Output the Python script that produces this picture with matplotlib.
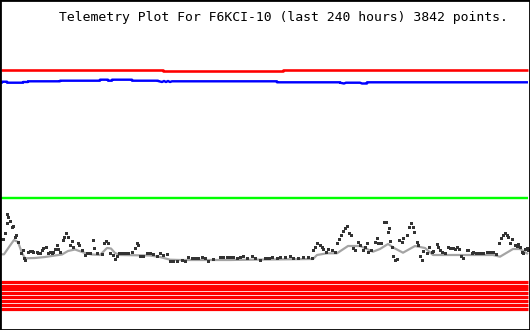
import matplotlib
matplotlib.use("Agg")
import matplotlib.pyplot as plt
import numpy as np

# ---- data (x: plot column 0..530, y: screen level, larger = lower) ----
title = "Telemetry Plot For F6KCI-10 (last 240 hours) 3842 points."

red_x = [1, 163, 163, 283, 283, 285, 285, 528]
red_y = [70, 70, 71, 71, 70, 70, 70, 70]

blue_x = [1, 2, 2, 7, 7, 23, 23, 28, 28, 60, 60, 100, 100, 108, 108, 112, 112, 132,
          132, 158, 158, 162, 164, 166, 168, 170, 172, 177, 177, 277, 277, 340, 340,
          344, 346, 360, 362, 367, 367, 528]
blue_y = [82.7, 82.7, 81.7, 81.7, 82.7, 82.7, 82, 82, 81.3, 81.3, 80.7, 80.7, 79.7, 79.7,
          80.7, 80.7, 79.7, 79.7, 80.7, 80.7, 81, 82, 81, 82, 81, 82, 81.3, 81.3, 81.3,
          81.3, 82.3, 82.3, 82.7, 83.5, 82.7, 82.7, 83.5, 83.5, 82.3, 82.3]

green_x = [1, 528]
green_y = [198, 198]

avg_x = [1, 4, 9, 14, 18, 22, 25, 35, 45, 55, 62, 68, 75, 85, 92, 100, 103, 107, 111,
         115, 120, 150, 160, 170, 180, 230, 250, 270, 313, 317, 327, 337, 348, 360,
         373, 380, 388, 395, 403, 415, 425, 433, 493, 500, 513, 520, 528]
avg_y = [254.3, 254.3, 247, 240, 242, 253, 258.3, 258, 257, 255.5, 254.5, 251, 249.5,
         253, 254.5, 255, 252, 248, 248.5, 253, 255, 255.5, 257, 259.7, 260, 260, 259.7,
         259.5, 259, 255, 253.3, 253.3, 246, 246, 251.7, 249, 244, 248.5, 252.7, 246,
         248, 255, 255, 256.7, 249, 249, 254]

pts_x = [1.7, 2.7, 4.7, 7.3, 8.3, 6.7, 10, 11.7, 13.3, 15, 16, 18.3, 20.7, 22.7, 24, 25,
         28.3, 30, 31.7, 33.3, 36.7, 38.3, 40, 41.7, 43.3, 45.7, 48.3, 50, 51.7, 53.3,
         55, 56.7, 58.3, 60, 62.7, 64.3, 65.7, 68.3, 70, 71.7, 73.3, 77.7, 79.3, 81.7,
         85, 87.3, 90, 93.3, 94.3, 96.7, 101.7, 104, 106, 107.7, 110, 112.7, 115, 116.7,
         119.3, 121.7, 125, 128.3, 131.7, 135, 136.7, 137.7, 140, 143.3, 146.7, 150,
         153.3, 156.7, 160, 163.3, 166.7, 170, 173.3, 176.7, 181.7, 185, 188.3, 191.7,
         195, 198.3, 201.7, 205, 208.3, 213.3, 220, 223.3, 226.7, 230, 233.3, 236.7,
         240, 243.3, 246.7, 251.7, 255, 260, 265, 269.3,
         266.7, 271.7, 276.7, 280, 285, 290, 293.3, 298.3, 303.3, 308.3, 311.7,
         313.3, 315, 317.3, 320, 321.7, 323.3, 325.7, 328.3, 331.7, 335, 337.3, 339,
         341, 343.3, 345, 347.3, 349.3, 350.7, 353.3, 355, 357.7, 360, 363.3, 365,
         366.7, 368.3, 370.7, 375, 376.7, 378.3, 380.7, 384, 386, 387.7, 389, 390,
         391.7, 393.3, 395, 396.7, 399.3, 401.7, 403.3, 406.7, 409, 411, 412.7, 414,
         416.7, 418.3, 420, 421.7, 423.3, 426.7, 429, 431.7, 433.3, 436.7, 438.3,
         440, 441.7, 445, 448.3, 450, 452.7, 455, 456.7, 459, 461, 462.7, 466.7,
         468.3, 471.7, 473.3, 476, 478.3, 480.7, 483.3, 486.7, 490, 493.3, 496,
         499.3, 500.7, 502.7, 505, 506.7, 508.3, 510, 512, 515, 516.7, 518.3, 520,
         521.7, 523.3, 525, 526.7, 528]
pts_y = [239.3, 239.3, 233.3, 214, 216.7, 223.3, 221, 227.3, 225.7, 236.7, 235, 241.7,
         252.7, 250, 258.3, 260, 251.7, 251, 251, 251.7, 251.7, 253.3, 252.7, 250,
         248.3, 246.7, 252.7, 251.7, 252.7, 251.7, 249.3, 245, 249.3, 251.7, 240,
         236.7, 233.3, 236.7, 245, 240.7, 246.7, 242.7, 245, 250, 255, 252.7, 252.7,
         240, 248.3, 252.7, 254, 243.3, 240.7, 243.3, 252.7, 255, 259.3, 256, 252.7,
         253.3, 252.7, 253.3, 251.7, 248.3, 243.3, 245, 256, 256, 253.3, 253.3,
         254.3, 256, 253.3, 255, 254, 260.7, 260.7, 260.7, 260, 260.7, 257.3, 258.3,
         258.3, 258.3, 257.3, 258.3, 260.7, 259.3, 256.7, 256.7, 256.7, 256.7, 256.7,
         257.7, 256.7, 256, 258.3, 256, 257.7, 260, 258.3, 257.7,
         258.3, 256.7, 257.7, 256.7, 256.7, 256, 257.7, 257.7, 256.7, 256.7, 258.3,
         250, 246.7, 243.3, 245, 247.3, 249.3, 251.7, 249.3, 250, 251.7, 243.3,
         239.3, 235, 230.7, 228.3, 226, 233.3, 235, 248.3, 250, 241.7, 245, 250,
         246.7, 243.3, 251.7, 250, 241.7, 238.3, 242.7, 242.7, 222.3, 222.3, 231.7,
         228.3, 240.7, 247.3, 256, 260, 259.3, 240, 241.7, 238.3, 235, 227.3, 223.3,
         226.7, 231.7, 241.7, 245, 256, 260, 250.7, 252.7, 246.7, 251.7, 250.7, 244,
         247.3, 250, 251.7, 252.7, 247.3, 248.3, 248.3, 249.3, 247.3, 249.3, 256,
         258.3, 250, 250, 253.3, 251.7, 252.7, 253.3, 252.7, 252.7, 252.3, 252.3,
         251.7, 254, 243.3, 238.3, 235, 232.7, 235, 237.3, 242.7, 239.3, 245, 246,
         244, 246.7, 251.7, 253.3, 249.3, 248.3, 250]

bit_levels = [281.7, 285.5, 289.3, 293.2, 297.0, 300.8, 304.7, 308.5]

# ---- figure ----
W, H, DPI = 530, 330, 100
fig = plt.figure(figsize=(W / DPI, H / DPI), dpi=DPI, facecolor="white")
ax = fig.add_axes([0, 0, 1, 1])
ax.set_xlim(0, W)
ax.set_ylim(H, 0)
ax.set_xticks([])
ax.set_yticks([])
for s in ax.spines.values():
    s.set_color("black")
    s.set_linewidth(2.0)

px = 72 / DPI  # one pixel in points

ax.plot(red_x, red_y, color="#ff0000", lw=2.6 * px, solid_capstyle="butt")
ax.plot(blue_x, blue_y, color="#0000ff", lw=2.4 * px, solid_capstyle="butt")
ax.plot(green_x, green_y, color="#00ff00", lw=2.4 * px, solid_capstyle="butt")

for lv in bit_levels:
    ax.plot([1, 528], [lv, lv], color="#ff0000", lw=3.2 * px, solid_capstyle="butt")

ax.plot(avg_x, avg_y, color="#a4a4a4", lw=2.2 * px, solid_capstyle="butt")
ax.plot(pts_x, pts_y, linestyle="none", marker="s", markersize=3.0 * px,
        markerfacecolor="#333333", markeredgewidth=0, color="#333333")

ax.text(59, 17.5, title, fontsize=9.45, family="DejaVu Sans Mono", color="black",
        ha="left", va="center")

fig.savefig("out.png", dpi=DPI, facecolor="white")
